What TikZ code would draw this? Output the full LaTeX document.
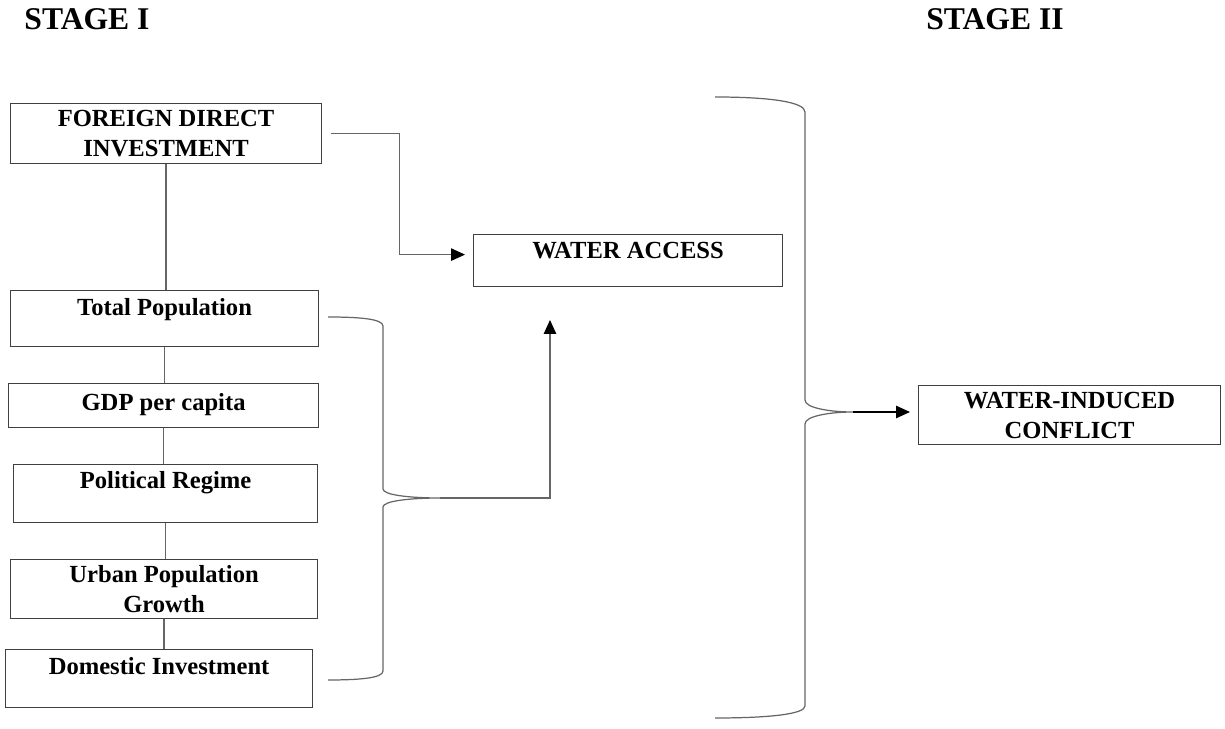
\documentclass[tikz,border=0pt]{standalone}
\usepackage{fontspec}
\setmainfont{Liberation Serif}
\usetikzlibrary{arrows.meta}

\begin{document}
\begin{tikzpicture}[x=0.02cm, y=-0.02cm,
        every node/.style={font=\bfseries\fontsize{14}{17}\selectfont, inner sep=0pt},
        box/.style={draw=black!75, line width=0.7pt, rectangle, anchor=north west},
        link/.style={draw=black!60, line width=0.7pt},
        arr/.style={link, -{Triangle[length=0.28cm, width=0.25cm, color=black]}},
        stage/.style={font=\bfseries\fontsize{18}{21}\selectfont}]
        \useasboundingbox (0,0) rectangle (1225,729);
        \node[stage] (S-1) at (87,19) {STAGE I};
        \node[stage] (S-2) at (995,19) {STAGE II};
        % stage I boxes
        \node[box, align=center, minimum width=6.22cm, minimum height=1.2cm] (fdi) at (10,103) {FOREIGN DIRECT\\INVESTMENT};
        \node[box, minimum width=6.16cm, text height=0.5cm, text depth=0.62cm] (tp) at (10,290) {Total Population};
        \node[box, minimum width=6.2cm, text height=0.53cm, text depth=0.35cm] (gdp) at (8,383) {GDP per capita};
        \node[box, minimum width=6.08cm, text height=0.47cm, text depth=0.69cm] (pr) at (13,464) {Political Regime};
        \node[box, align=center, minimum width=6.14cm, minimum height=1.18cm] (upg) at (10,559) {Urban Population\\Growth};
        \node[box, minimum width=6.14cm, text height=0.49cm, text depth=0.67cm] (di) at (5,649) {Domestic Investment};
        \node[box, minimum width=6.18cm, text height=0.48cm, text depth=0.56cm] (wa) at (473,234) {WATER ACCESS};
        % stage II box
        \node[box, align=center, minimum width=6.04cm, minimum height=1.18cm] (wic) at (918,385) {WATER-INDUCED\\CONFLICT};
        \foreach \a/\b in {fdi/tp, tp/gdp, gdp/pr, pr/upg, upg/di} {
            \draw[link] (\a.south) -- (\a.south |- \b.north);
        }
        \draw[arr] ([xshift=0.18cm]fdi.east) -- ++(68,0) |- ([xshift=-0.16cm, yshift=0.12cm]wa.west);
        % first brace
        \coordinate (B1-top) at (328,317);
        \coordinate (B1-tip) at (440,498);
        \coordinate (B1-bot) at (328,680);
        \coordinate (wa-in) at (550,320);
        \draw[link] (B1-top) .. controls (360,317) and (383,319) .. (383,326) -- (383,489)
            .. controls (383,495) and (410,498) .. (B1-tip)
            .. controls (410,498) and (383,501) .. (383,507) -- (383,671)
            .. controls (383,678) and (360,680) .. (B1-bot);
        \draw[arr] (B1-tip) -| (wa-in);
        % second brace
        \coordinate (B2-top) at (715,97);
        \coordinate (B2-tip) at (853,412);
        \coordinate (B2-bot) at (715,718);
        \draw[link] (B2-top) .. controls (770,97) and (805,102) .. (805,112) -- (805,400)
            .. controls (805,408) and (830,412) .. (B2-tip)
            .. controls (830,412) and (805,416) .. (805,424) -- (805,706)
            .. controls (805,714) and (770,718) .. (B2-bot);
        \draw[arr, draw=black] (B2-tip) -- ([xshift=-0.16cm]B2-tip -| wic.west);
\end{tikzpicture}
\end{document}
